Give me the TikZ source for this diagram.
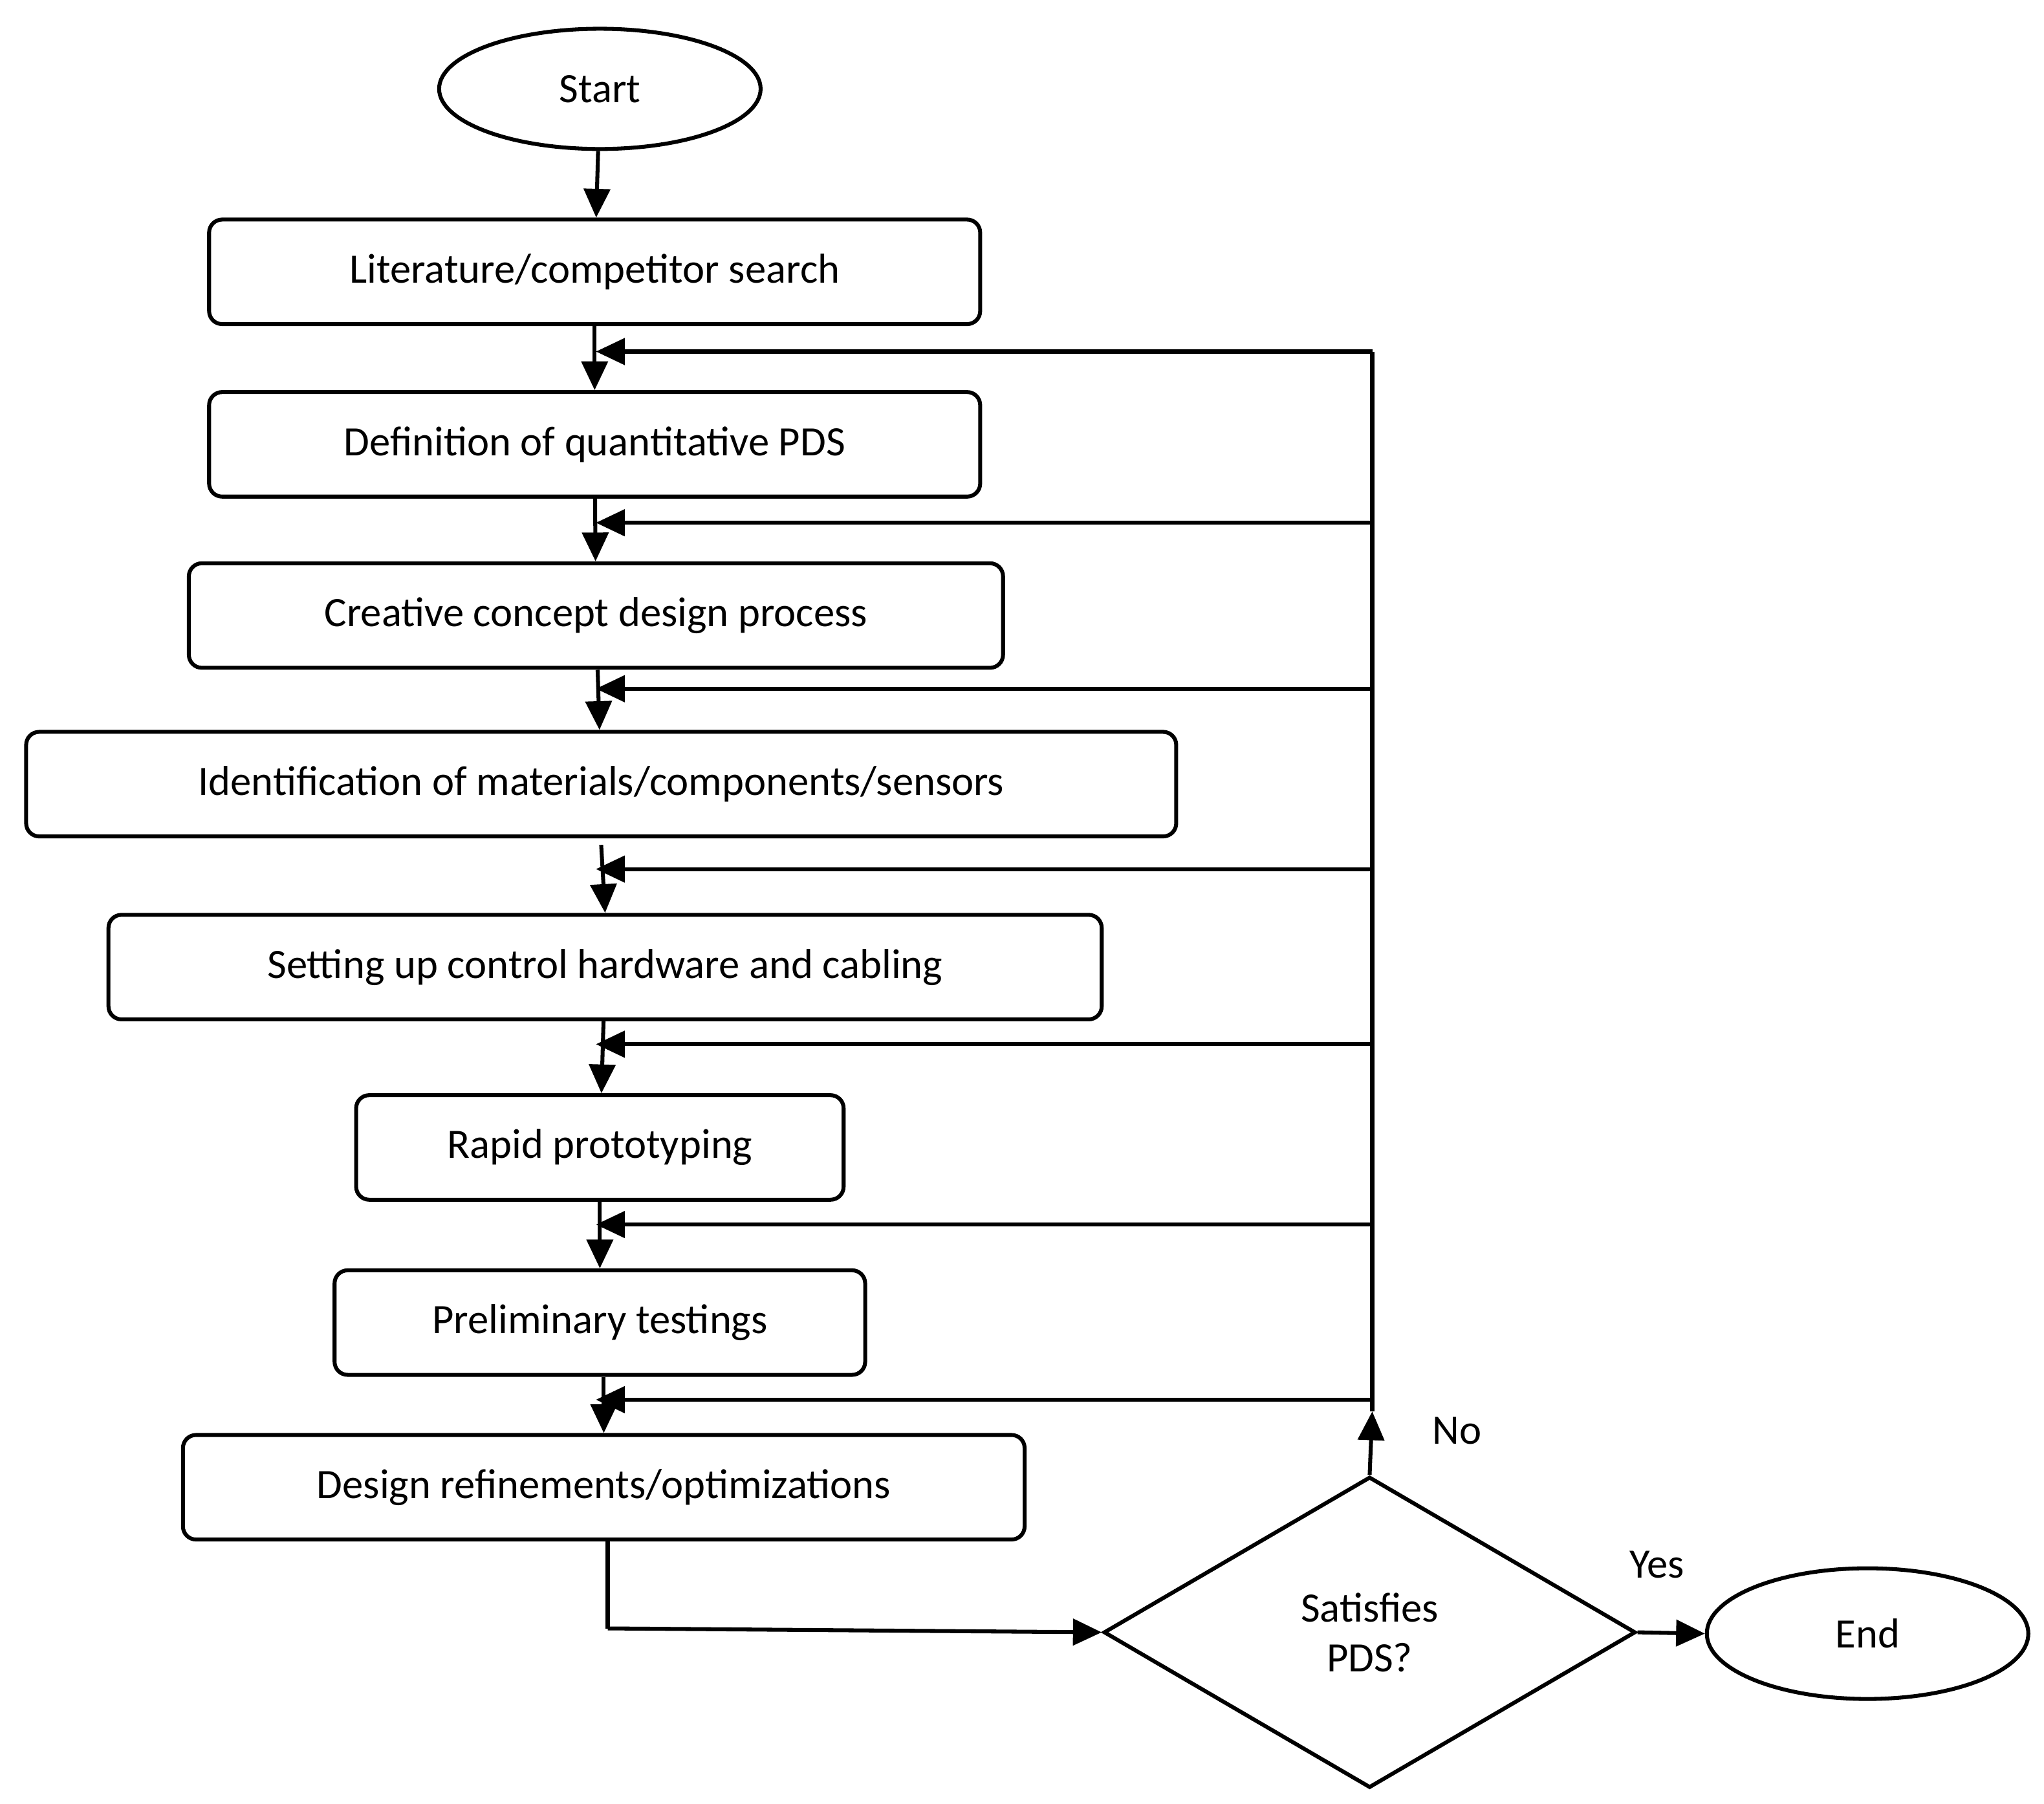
\documentclass[tikz,border=0pt]{standalone}
\usepackage{fontspec}
\setmainfont{Carlito}
\usetikzlibrary{shapes.geometric,arrows.meta}
\begin{document}
\begin{tikzpicture}[x=1pt,y=-1pt,
  box/.style={draw,line width=3pt,rounded corners=10pt,inner sep=0pt,font=\fontsize{32}{38}\selectfont},
  oval/.style={draw,ellipse,line width=3pt,inner sep=0pt,font=\fontsize{32}{38}\selectfont},
  arr/.style={line width=3pt,-{Triangle[length=22pt,width=20pt]}},
  ln/.style={line width=3pt},
  lbl/.style={font=\fontsize{32}{38}\selectfont}]
\useasboundingbox (0,0) rectangle (1564,1380);
\node[oval,minimum width=246pt,minimum height=92pt] (s) at (459,68) {Start};
\node[box,minimum width=590pt,minimum height=80pt] (b1) at (455,208) {Literature/competitor search};
\node[box,minimum width=590pt,minimum height=80pt] (b2) at (455,340) {Definition of quantitative PDS};
\node[box,minimum width=623pt,minimum height=80pt] (b3) at (456,471) {Creative concept design process};
\node[box,minimum width=880pt,minimum height=80pt] (b4) at (460,600) {Identification of materials/components/sensors};
\node[box,minimum width=760pt,minimum height=80pt] (b5) at (463,740) {Setting up control hardware and cabling};
\node[box,minimum width=373pt,minimum height=80pt] (b6) at (459,878) {Rapid prototyping};
\node[box,minimum width=406pt,minimum height=80pt] (b7) at (459,1012) {Preliminary testings};
\node[box,minimum width=644pt,minimum height=80pt] (b8) at (462,1138) {Design refinements/optimizations};
\node[draw,diamond,line width=3pt,minimum width=407pt,minimum height=238pt,inner sep=0pt,aspect=1.7,font=\fontsize{32}{38}\selectfont,align=center] (d) at (1048,1249) {Satisfies\\PDS?};
\node[oval,minimum width=246pt,minimum height=100pt] (e) at (1429,1250) {End};
\node[lbl] (no) at (1115,1095) {No};
\node[lbl] (yes) at (1268,1197) {Yes};
\draw[arr] (s) -- (b1);
\draw[arr] (b1) -- (b2);
\draw[arr] (b2) -- (b3);
\draw[arr] (b3) -- (b4);
\draw[arr] (b4.south) ++(0,5) -- (b5.north);
\draw[arr] (b5) -- (b6);
\draw[arr] (b6) -- (b7);
\draw[arr] (b7.south) ++(3,0) -- (b8.north);
\coordinate (top) at (1050,269);
\draw[arr] (d.north) -- (1050,1080);
\draw[ln] (1050,1080) -- (top);
\foreach \y in {269,400,527,665,799,937,1071}{
  \draw[arr] (1050,\y) -- (456,\y);
}
\coordinate (c1) at (465,1246);
\draw[ln] (b8.south -| c1) -- (c1);
\draw[arr] (c1) -- (d.west);
\draw[arr] (d.east) -- (e.west);
\end{tikzpicture}
\end{document}
